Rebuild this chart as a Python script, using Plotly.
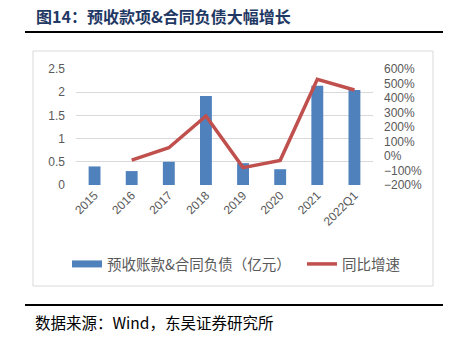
import plotly.graph_objects as go

categories = ["2015", "2016", "2017", "2018", "2019", "2020", "2021", "2022Q1"]
advance_receipts = [0.40, 0.30, 0.50, 1.92, 0.47, 0.34, 2.14, 2.05]   # 亿元
yoy_growth = [None, -0.28, 0.57, 2.76, -0.80, -0.30, 5.29, 4.55]      # 同比增速
left_ticks = [0, 0.5, 1, 1.5, 2, 2.5]
right_ticks = [-2, -1, 0, 1, 2, 3, 4, 5, 6]

BAR_NAME = "预收账款&合同负债（亿元）"
LINE_NAME = "同比增速"
BLUE = "#4F81BD"
RED = "#C0504D"
GREY = "#595959"

# plot area in pixels
L, R, T, B = 76, 373, 69, 185
W, H = 451, 339
pw, ph = R - L, B - T


def px(x):
    return (x - L) / pw


def py(y):
    return (B - y) / ph


fig = go.Figure()
fig.add_trace(go.Bar(
    x=categories, y=advance_receipts, name=BAR_NAME,
    marker=dict(color=BLUE, line=dict(width=0)), width=0.32,
    showlegend=False, yaxis="y"))
# legend proxy for the bar series (wide rectangle like the reference)
fig.add_trace(go.Scatter(
    x=[None], y=[None], mode="lines", name=BAR_NAME,
    line=dict(color=BLUE, width=7), yaxis="y", showlegend=True, legend="legend"))
fig.add_trace(go.Scatter(
    x=categories, y=yoy_growth, mode="lines", name=LINE_NAME,
    line=dict(color=RED, width=3.5), yaxis="y2", connectgaps=False,
    showlegend=True, legend="legend2"))

tickfont = dict(family="Liberation Sans, Arial, sans-serif", size=12, color=GREY)
legfont = dict(family="Noto Sans CJK SC", size=14.5, color=GREY)

fig.update_layout(
    width=W, height=H,
    margin=dict(l=L, r=W - R, t=T, b=H - B, pad=0),
    paper_bgcolor="white", plot_bgcolor="white",
    xaxis=dict(type="category", tickangle=-45, tickfont=tickfont,
               showgrid=False, showline=False, ticks="", zeroline=False),
    yaxis=dict(range=[0, 2.5], tickvals=left_ticks, tickfont=tickfont,
               showgrid=True, gridcolor="#D9D9D9", gridwidth=1,
               zeroline=False, showline=False, ticks="", ticklabelstandoff=10),
    yaxis2=dict(range=[-2, 6], tickvals=right_ticks, tickformat=".0%",
                overlaying="y", side="right", tickfont=tickfont,
                showgrid=False, zeroline=False, showline=False, ticks="",
                ticklabelstandoff=10),
    showlegend=True,
    legend=dict(orientation="h", x=px(67), y=py(264), xanchor="left",
                yanchor="middle", font=legfont, bgcolor="rgba(0,0,0,0)", itemwidth=30),
    legend2=dict(orientation="h", x=px(302), y=py(264), xanchor="left",
                 yanchor="middle", font=legfont, bgcolor="rgba(0,0,0,0)", itemwidth=30),
    font=dict(family="Noto Sans CJK SC"),
)

shapes = [
    # chart box
    dict(type="rect", xref="paper", yref="paper", x0=px(33), x1=px(433),
         y0=py(286), y1=py(51), line=dict(color="#D9D9D9", width=1), layer="below"),
    # title underline
    dict(type="line", xref="paper", yref="paper", x0=px(25), x1=px(443),
         y0=py(32), y1=py(32), line=dict(color="#000000", width=2)),
    # source line
    dict(type="line", xref="paper", yref="paper", x0=px(25), x1=px(443),
         y0=py(305), y1=py(305), line=dict(color="#000000", width=2)),
]
fig.update_layout(shapes=shapes)

fig.add_annotation(text="<b>图14：预收款项&合同负债大幅增长</b>", xref="paper", yref="paper",
                   x=px(34), y=py(16), xanchor="left", yanchor="middle", showarrow=False,
                   font=dict(family="Noto Sans CJK SC", size=16, color="#1F3864"))
fig.add_annotation(text="数据来源：Wind，东吴证券研究所", xref="paper", yref="paper",
                   x=px(33), y=py(322), xanchor="left", yanchor="middle", showarrow=False,
                   font=dict(family="Noto Sans CJK SC", size=15.5, color="#000000"))

fig.write_html("out.html")
